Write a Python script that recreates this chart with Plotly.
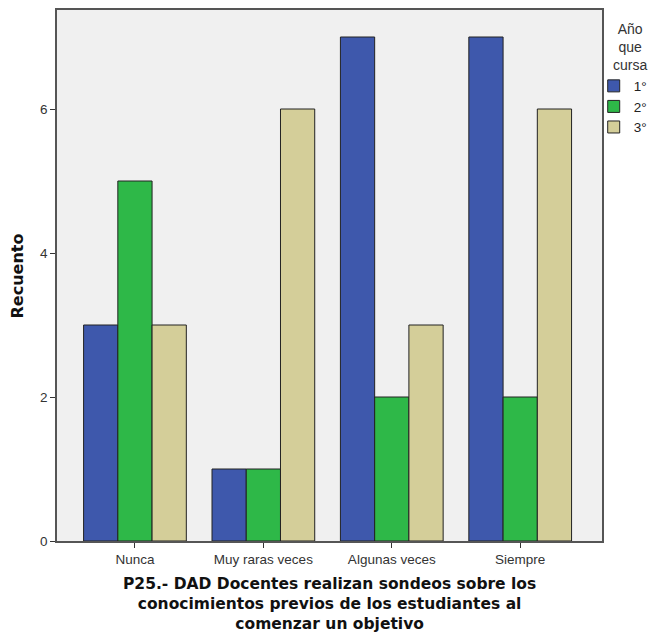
import plotly.graph_objects as go

categories = ["Nunca", "Muy raras veces", "Algunas veces", "Siempre"]
series_names = ["1°", "2°", "3°"]
values_1 = [3, 1, 7, 7]
values_2 = [5, 1, 2, 2]
values_3 = [3, 6, 3, 6]
colors = ["#3e58ac", "#2eb848", "#d4ce99"]
x_title = ("P25.- DAD Docentes realizan sondeos sobre los<br>"
           "conocimientos previos de los estudiantes al<br>"
           "comenzar un objetivo")
y_title = "Recuento"
legend_title = "Año<br>que<br>cursa"

TITLE_FONT = dict(family="DejaVu Sans, sans-serif", size=15.5, color="#111111")

fig = go.Figure()
for name, vals, col in zip(series_names, [values_1, values_2, values_3], colors):
    fig.add_trace(go.Bar(x=categories, y=vals, name=name,
                         marker=dict(color=col, line=dict(color="#222222", width=1))))

fig.add_annotation(text="<b>%s</b>" % x_title, xref="paper", yref="paper",
                   x=0.5, y=-0.1186, xanchor="center", yanchor="middle", align="center",
                   showarrow=False, font=TITLE_FONT)
fig.add_annotation(text="<b>%s</b>" % y_title, xref="paper", yref="paper",
                   x=-0.0716, y=0.5, xanchor="center", yanchor="middle", textangle=-90,
                   showarrow=False, font=dict(family="DejaVu Sans, sans-serif", size=16, color="#111111"))
fig.add_annotation(text=legend_title, xref="paper", yref="paper",
                   x=1.0514, y=0.930, xanchor="center", yanchor="middle", align="center",
                   showarrow=False,
                   font=dict(family="Liberation Sans, Arial, sans-serif", size=14, color="#333333"))

fig.update_layout(
    width=651, height=636,
    margin=dict(l=57, r=49, t=10, b=95, autoexpand=False),
    plot_bgcolor="#f0f0f0", paper_bgcolor="white",
    barmode="group", bargap=0.2, bargroupgap=0,
    font=dict(family="Liberation Sans, Arial, sans-serif", color="#222222", size=13),
    legend=dict(
        xref="container", yref="container",
        x=0.912, xanchor="left", y=0.889, yanchor="top",
        font=dict(size=13.5, color="#222222"),
        bgcolor="rgba(0,0,0,0)", tracegroupgap=0,
    ),
    xaxis=dict(
        range=[-0.607, 3.637], showline=True, mirror=True, linecolor="#555555", linewidth=1.5,
        ticks="outside", ticklen=5, tickcolor="#333333", showgrid=False,
        tickfont=dict(size=13.5, color="#333333"),
    ),
    yaxis=dict(
        range=[0, 7.375], showline=True, mirror=True, linecolor="#555555", linewidth=1.5,
        ticks="outside", ticklen=5, tickcolor="#333333", showgrid=False, zeroline=False,
        tickvals=[0, 2, 4, 6], tickfont=dict(size=13.5, color="#333333"),
    ),
)

fig.write_html("out.html", config={"displayModeBar": False},
               post_script="document.body.style.margin='0';document.body.style.overflow='hidden';")
